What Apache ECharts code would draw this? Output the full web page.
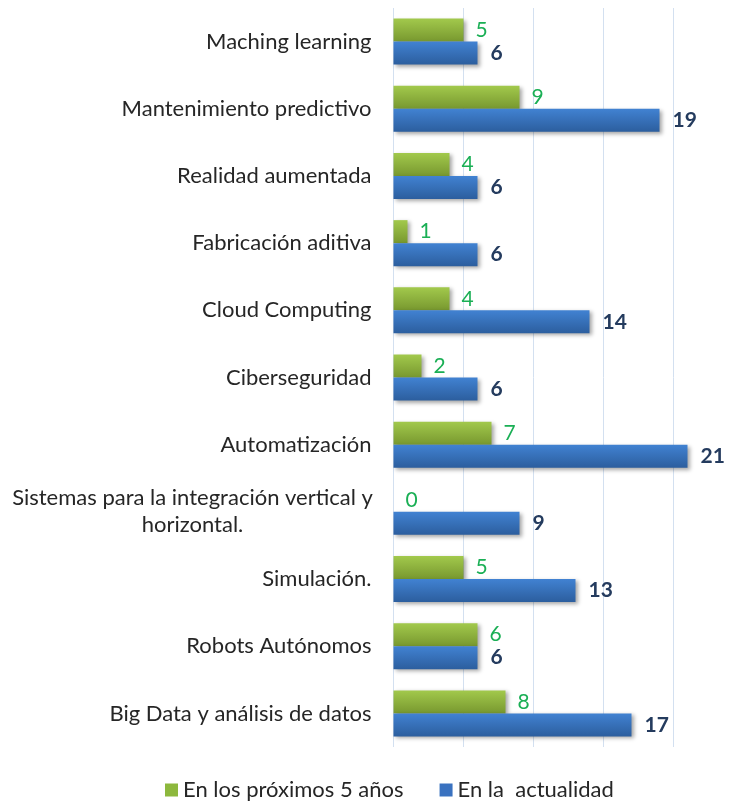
<!DOCTYPE html>
<html>
<head>
<meta charset="utf-8">
<script src="https://cdn.jsdelivr.net/npm/echarts@6/dist/echarts.min.js"></script>
<style>
  html, body { margin: 0; padding: 0; background: #ffffff; }
  #chart { width: 730px; height: 806px; }
</style>
</head>
<body>
<div id="chart"></div>
<script>
// Technologies, listed top to bottom
const categories = [
  'Maching learning',
  'Mantenimiento predictivo',
  'Realidad aumentada',
  'Fabricación aditiva',
  'Cloud Computing',
  'Ciberseguridad',
  'Automatización',
  'Sistemas para la integración vertical y\nhorizontal.',
  'Simulación.',
  'Robots Autónomos',
  'Big Data y análisis de datos'
];

const seriesNames = ['En los próximos 5 años', 'En la  actualidad'];

// Number of companies planning to adopt within five years
const proximos = [5, 9, 4, 1, 4, 2, 7, 0, 5, 6, 8];
// Number of companies using it today
const actualidad = [6, 19, 6, 6, 14, 6, 21, 9, 13, 6, 17];

const FONT = 'Lato, "Open Sans", sans-serif';
const TEXT_SIZE = 22;

function vGrad(top, bottom) {
  return new echarts.graphic.LinearGradient(0, 0, 0, 1, [
    { offset: 0, color: top },
    { offset: 1, color: bottom }
  ]);
}

const chart = echarts.init(document.getElementById('chart'), null, { renderer: 'canvas' });

chart.setOption({
  animation: false,
  backgroundColor: '#ffffff',
  grid: { left: 393.5, top: 8, width: 350, height: 739, outerBoundsMode: 'none', containLabel: false },
  legend: {
    bottom: 0,
    left: 160,
    itemWidth: 13,
    itemHeight: 13,
    itemGap: 36,
    icon: 'rect',
    textStyle: { fontFamily: FONT, fontSize: TEXT_SIZE, color: '#262626' },
    data: [
      { name: seriesNames[0], itemStyle: { color: '#8db83d' } },
      { name: seriesNames[1], itemStyle: { color: '#3a72c0' } }
    ]
  },
  xAxis: {
    type: 'value',
    min: 0,
    max: 25,
    interval: 5,
    axisLine: { show: false },
    axisTick: { show: false },
    axisLabel: { show: false },
    splitLine: { lineStyle: { color: '#d3e0f0', width: 1 } }
  },
  yAxis: {
    type: 'category',
    inverse: true,
    data: categories,
    axisLine: { show: false },
    axisTick: { show: false },
    axisLabel: {
      margin: 22,
      fontFamily: FONT,
      fontSize: TEXT_SIZE,
      color: '#262626',
      formatter: function (v) {
        if (v.indexOf('\n') >= 0) {
          return v.split('\n').map(function (s) { return '{c|' + s + '}'; }).join('\n');
        }
        return v;
      },
      rich: {
        c: { width: 358, align: 'center', fontFamily: FONT, fontSize: TEXT_SIZE, color: '#262626', lineHeight: 27 }
      }
    }
  },
  series: [
    {
      name: seriesNames[0],
      type: 'bar',
      data: proximos,
      barWidth: 23,
      barGap: '0%',
      itemStyle: {
        color: vGrad('#a2c94c', '#78982f'),
        shadowColor: 'rgba(0,0,0,0.35)',
        shadowBlur: 4,
        shadowOffsetX: 2,
        shadowOffsetY: 2
      },
      label: {
        show: true,
        position: 'right',
        distance: 12,
        fontFamily: FONT,
        fontSize: 21,
        color: '#1aaf55'
      }
    },
    {
      name: seriesNames[1],
      type: 'bar',
      data: actualidad,
      barWidth: 23,
      barGap: '0%',
      itemStyle: {
        color: vGrad('#4182d2', '#2c5e9e'),
        shadowColor: 'rgba(0,0,0,0.35)',
        shadowBlur: 4,
        shadowOffsetX: 2,
        shadowOffsetY: 2
      },
      label: {
        show: true,
        position: 'right',
        distance: 13,
        fontFamily: FONT,
        fontSize: 21,
        fontWeight: 'bold',
        color: '#243b5e'
      }
    }
  ]
});
</script>
</body>
</html>
